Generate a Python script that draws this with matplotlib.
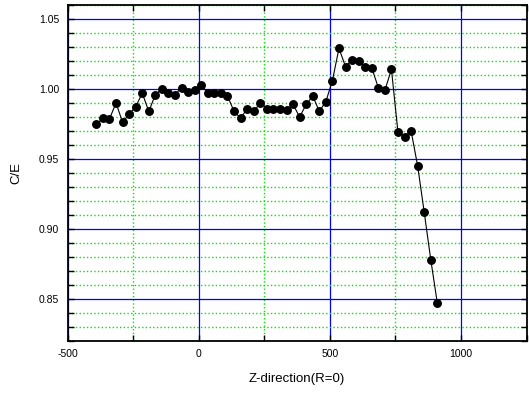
import matplotlib
matplotlib.use("Agg")
import matplotlib.pyplot as plt
from matplotlib.ticker import MultipleLocator, FormatStrFormatter

z = [-390, -365, -340, -315, -290, -265, -240, -215, -190, -165,
     -140, -115, -90, -65, -40, -15, 10, 35, 60, 85,
     110, 135, 160, 185, 210, 235, 260, 285, 310, 335,
     360, 385, 410, 435, 460, 485, 510, 535, 560, 585,
     610, 635, 660, 685, 710, 735, 760, 785, 810, 835,
     860, 885, 910]
ce = [0.975, 0.979, 0.9786, 0.990, 0.9762, 0.982, 0.9874, 0.997, 0.984, 0.996,
      1.000, 0.997, 0.996, 1.001, 0.998, 0.9995, 1.003, 0.997, 0.997, 0.997,
      0.995, 0.984, 0.979, 0.986, 0.984, 0.990, 0.986, 0.986, 0.986, 0.985,
      0.989, 0.980, 0.989, 0.995, 0.984, 0.991, 1.006, 1.029, 1.016, 1.021,
      1.020, 1.016, 1.015, 1.001, 0.999, 1.014, 0.969, 0.966, 0.970, 0.945,
      0.912, 0.878, 0.847]

plt.rcParams['font.family'] = ['Liberation Sans', 'DejaVu Sans']
plt.rcParams['axes.unicode_minus'] = False

fig = plt.figure(figsize=(5.29, 3.96), dpi=100)
ax = fig.add_axes([0.1276, 0.1389, 0.8677, 0.8485])

ax.set_xlim(-500, 1250)
ax.set_ylim(0.82, 1.06)
ax.xaxis.set_major_locator(MultipleLocator(500))
ax.xaxis.set_minor_locator(MultipleLocator(250))
ax.yaxis.set_major_locator(MultipleLocator(0.05))
ax.yaxis.set_minor_locator(MultipleLocator(0.01))
ax.yaxis.set_major_formatter(FormatStrFormatter('%.2f'))

ax.grid(which='minor', color='#00e600', linestyle=':', linewidth=1.0)
ax.grid(which='major', color='#0000ff', linestyle='-', linewidth=0.9)
ax.set_axisbelow(True)

ax.plot(z, ce, color='black', linewidth=0.8, marker='o', markersize=5.4,
        markerfacecolor='black', markeredgecolor='black', zorder=3)

ax.tick_params(which='both', direction='in', top=True, right=True,
               length=4, width=1, labelsize=7.5, color='black', pad=6)
for s in ax.spines.values():
    s.set_linewidth(1.3)

ax.set_xlabel('Z-direction(R=0)', fontsize=9.5, labelpad=10)
ax.set_ylabel('C/E', fontsize=9.5, labelpad=12)

fig.savefig('out.png', dpi=100)
